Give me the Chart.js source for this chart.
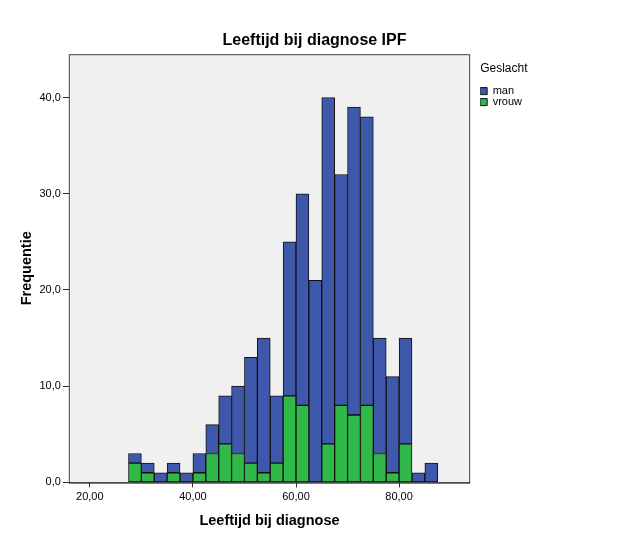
<!DOCTYPE html>
<html>
<head>
<meta charset="utf-8">
<script src="https://cdn.jsdelivr.net/npm/chart.js@4/dist/chart.umd.min.js"></script>
<style>
  html, body { margin: 0; padding: 0; background: #fff; }
  #wrap { width: 629px; height: 544px; }
</style>
</head>
<body>
<div id="wrap"><canvas id="chart" width="629" height="544"></canvas></div>
<script>
// bin centres (age), bin width 2.5
const binCenters = [28.75, 31.25, 33.75, 36.25, 38.75, 41.25, 43.75, 46.25, 48.75, 51.25, 53.75, 56.25,
                    58.75, 61.25, 63.75, 66.25, 68.75, 71.25, 73.75, 76.25, 78.75, 81.25, 83.75, 86.25];
const vrouw = [2, 1, 0, 1, 0, 1, 3, 4, 3, 2, 1, 2, 9, 8, 0, 4, 8, 7, 8, 3, 1, 4, 0, 0];
const man   = [1, 1, 1, 1, 1, 2, 3, 5, 7, 11, 14, 7, 16, 22, 21, 36, 24, 32, 30, 12, 10, 11, 1, 2];
const xTicks = [20, 40, 60, 80];
const yTicks = [0, 10, 20, 30, 40];

const fmt = (v, d) => v.toFixed(d).replace('.', ',');

// centre the title over the whole canvas and nudge the legend next to the plot
const placeBlocks = {
  id: 'placeBlocks',
  afterLayout(chart) {
    const t = chart.titleBlock;
    if (t) { t.left = 0; t.right = chart.width; t.width = chart.width; }
    const lg = chart.legend;
    if (lg) {
      const w = lg.right - lg.left;
      lg.left = chart.chartArea.right + 10;
      lg.right = lg.left + w;
    }
  }
};

const plotBg = {
  id: 'plotBg',
  beforeDraw(chart) {
    const { ctx, chartArea: a } = chart;
    ctx.save();
    ctx.fillStyle = '#f0f0f0';
    ctx.fillRect(a.left, a.top, a.right - a.left, a.bottom - a.top);
    ctx.restore();
  },
  afterDraw(chart) {
    const { ctx, chartArea: a } = chart;
    ctx.save();
    ctx.strokeStyle = '#444';
    ctx.lineWidth = 1;
    ctx.strokeRect(a.left + 0.5, a.top + 0.5, a.right - a.left - 1, a.bottom - a.top);
    ctx.strokeStyle = '#222';
    ctx.beginPath();
    ctx.moveTo(a.left, a.bottom + 0.5);
    ctx.lineTo(a.right, a.bottom + 0.5);
    ctx.stroke();
    ctx.restore();
  }
};

new Chart(document.getElementById('chart'), {
  type: 'bar',
  data: {
    datasets: [
      {
        label: 'vrouw',
        data: binCenters.map((x, i) => ({ x, y: vrouw[i] })),
        backgroundColor: '#30b848',
        borderColor: '#111',
        borderWidth: 1,
        borderSkipped: false,
        barPercentage: 1,
        categoryPercentage: 1
      },
      {
        label: 'man',
        data: binCenters.map((x, i) => ({ x, y: man[i] })),
        backgroundColor: '#3e58ac',
        borderColor: '#111',
        borderWidth: 1,
        borderSkipped: false,
        barPercentage: 1,
        categoryPercentage: 1
      }
    ]
  },
  options: {
    responsive: false,
    animation: false,
    layout: { padding: { left: 15, right: 107, top: 0, bottom: 10 } },
    plugins: {
      title: {
        display: true,
        text: 'Leeftijd bij diagnose IPF',
        color: '#000',
        font: { family: 'Liberation Sans', size: 16, weight: 'bold' },
        padding: { top: 31, bottom: 4 }
      },
      legend: {
        position: 'right',
        align: 'start',
        fullSize: false,
        reverse: true,
        title: {
          display: true,
          text: 'Geslacht',
          position: 'start',
          color: '#000',
          font: { family: 'Liberation Sans', size: 12 },
          padding: { top: 8, bottom: 9 }
        },
        labels: {
          boxWidth: 7,
          boxHeight: 7,
          padding: 0,
          color: '#000',
          font: { family: 'Liberation Sans', size: 11 }
        }
      },
      tooltip: { enabled: false }
    },
    scales: {
      x: {
        type: 'linear',
        stacked: true,
        offset: false,
        min: 15.92,
        max: 93.79,
        afterBuildTicks: s => { s.ticks = xTicks.map(v => ({ value: v })); },
        ticks: {
          color: '#000',
          font: { family: 'Liberation Sans', size: 11 },
          callback: v => fmt(v, 2),
          maxRotation: 0,
          padding: 3
        },
        grid: { offset: false, drawOnChartArea: false, color: '#333', tickLength: 5 },
        border: { display: false },
        title: {
          display: true,
          text: 'Leeftijd bij diagnose',
          color: '#000',
          font: { family: 'Liberation Sans', size: 14.5, weight: 'bold' },
          padding: { top: 6 }
        }
      },
      y: {
        stacked: true,
        min: 0,
        max: 44.5,
        afterBuildTicks: s => { s.ticks = yTicks.map(v => ({ value: v })); },
        ticks: {
          color: '#000',
          font: { family: 'Liberation Sans', size: 11 },
          callback: v => fmt(v, 1),
          padding: 2
        },
        grid: { drawOnChartArea: false, color: '#333', tickLength: 6 },
        border: { display: false },
        title: {
          display: true,
          text: 'Frequentie',
          color: '#000',
          font: { family: 'Liberation Sans', size: 14.5, weight: 'bold' },
          padding: { top: 3, bottom: 2 }
        }
      }
    }
  },
  plugins: [placeBlocks, plotBg]
});
</script>
</body>
</html>
